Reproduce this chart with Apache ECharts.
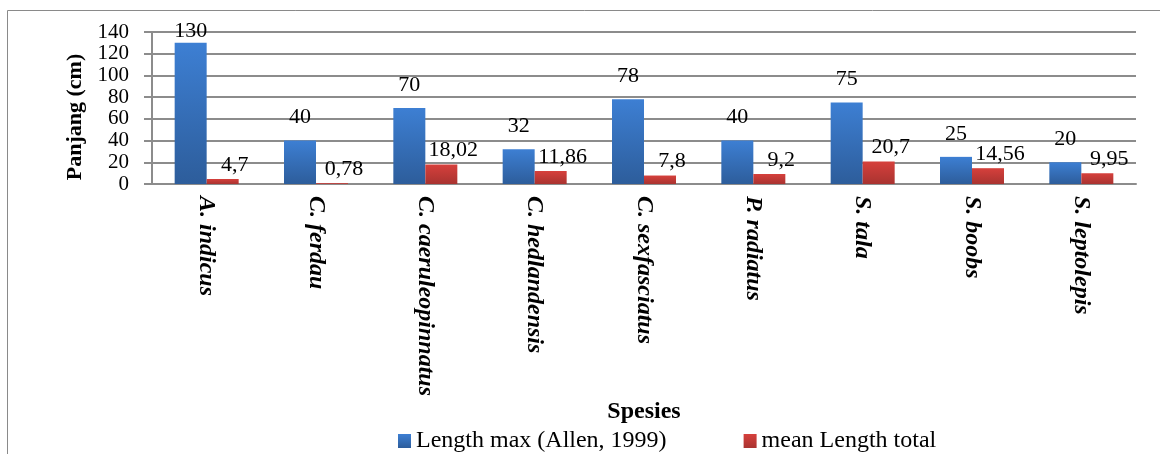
<!DOCTYPE html>
<html><head><meta charset="utf-8">
<script src="https://cdn.jsdelivr.net/npm/echarts@6/dist/echarts.min.js"></script>
<style>html,body{margin:0;padding:0;background:#fff}#c{width:1160px;height:454px}</style>
</head><body><div id="c"></div>
<script>
const categories = ['A. indicus','C. ferdau','C. caeruleopinnatus','C. hedlandensis','C. sexfasciatus','P. radiatus','S. tala','S. boobs','S. leptolepis'];
const lengthMax = [130,40,70,32,78,40,75,25,20];
const meanLength = [4.7,0.78,18.02,11.86,7.8,9.2,20.7,14.56,9.95];
const seriesNames = ['Length max (Allen, 1999)','mean Length total'];
const yTicks = [0,20,40,60,80,100,120,140];

const FONT = '"Liberation Serif","Times New Roman",serif';
const blue = new echarts.graphic.LinearGradient(0,0,0,1,[{offset:0,color:'#3d7fd3'},{offset:1,color:'#2d5d9b'}]);
const red = new echarts.graphic.LinearGradient(0,0,0,1,[{offset:0,color:'#d6403c'},{offset:1,color:'#a93330'}]);
const fmt = p => String(p.value).replace('.', ',');
const yMax = yTicks[yTicks.length-1];

const chart = echarts.init(document.getElementById('c'));
chart.setOption({
  animation:false,
  graphic:[{type:'rect',shape:{x:7.5,y:10.5,width:1200,height:500},style:{fill:'none',stroke:'#8a8a8a',lineWidth:1}}],
  grid:{left:152,right:24,top:32,bottom:270},
  legend:{data:seriesNames,left:393,top:424,itemWidth:13,itemHeight:14,itemGap:77,icon:'rect',
    textStyle:{fontFamily:FONT,fontSize:24,color:'#000'}},
  xAxis:{type:'category',data:categories,
    axisLine:{lineStyle:{color:'#8c8c8c',width:2}},axisTick:{show:false},
    axisLabel:{rotate:-90,interval:0,margin:12,fontFamily:FONT,fontSize:24,fontWeight:'bold',fontStyle:'italic',color:'#000'},
    name:'Spesies',nameLocation:'middle',nameGap:205,
    nameTextStyle:{fontFamily:FONT,fontSize:24,fontWeight:'bold',color:'#000'}},
  yAxis:{type:'value',min:yTicks[0],max:yMax,interval:20,
    axisLine:{show:true,lineStyle:{color:'#8c8c8c',width:2}},
    axisTick:{show:true,length:8,lineStyle:{color:'#8c8c8c',width:2}},
    splitLine:{lineStyle:{color:'#8c8c8c',width:2}},
    axisLabel:{fontFamily:FONT,fontSize:21,color:'#000',margin:23,showMinLabel:true,showMaxLabel:true,hideOverlap:false},
    name:'Panjang (cm)',nameLocation:'middle',nameGap:66,
    nameTextStyle:{fontFamily:FONT,fontSize:22,fontWeight:'bold',color:'#000',padding:[0,18,0,0]}},
  series:[
    {name:seriesNames[0],type:'bar',
     data:lengthMax.map(v => v > yMax*0.9 ? {value:v,label:{distance:1}} : v),
     barWidth:32,barGap:'0%',itemStyle:{color:blue},
     label:{show:true,position:'top',distance:12,fontFamily:FONT,fontSize:22,color:'#000',formatter:fmt}},
    {name:seriesNames[1],type:'bar',data:meanLength,barWidth:32,itemStyle:{color:red},
     label:{show:true,position:'top',distance:3,offset:[12,0],fontFamily:FONT,fontSize:22,color:'#000',formatter:fmt}}
  ]
});
</script></body></html>
